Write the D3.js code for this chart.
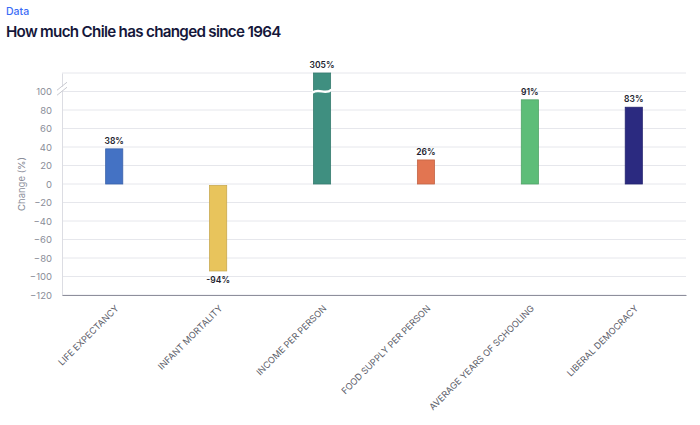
<!DOCTYPE html>
<html>
<head>
<meta charset="utf-8">
<script src="https://cdn.jsdelivr.net/npm/d3@7"></script>
<style>
  body { margin: 0; background: #fff; font-family: Inter, "Noto Sans", sans-serif; }
</style>
</head>
<body>
<script>
const categories = ["LIFE EXPECTANCY", "INFANT MORTALITY", "INCOME PER PERSON",
  "FOOD SUPPLY PER PERSON", "AVERAGE YEARS OF SCHOOLING", "LIBERAL DEMOCRACY"];
const values = [38, -94, 305, 26, 91, 83];
const colors = ["#4472c4", "#e8c45c", "#3f8f80", "#e27551", "#5dbd78", "#2b2a80"];
const yTicks = [100, 80, 60, 40, 20, 0, -20, -40, -60, -80, -100, -120];

const width = 700, height = 425;
const margin = { top: 73, right: 14, bottom: 130, left: 62 };

const svg = d3.select("body").append("svg")
  .attr("width", width).attr("height", height);

svg.append("text").attr("x", 6).attr("y", 15)
  .attr("font-size", 10.5).attr("font-weight", 500).attr("fill", "#3b6cf6")
  .text("Data");
svg.append("text").attr("x", 6).attr("y", 37)
  .attr("font-size", 15.2).attr("font-weight", 600).attr("fill", "#15173a")
  .attr("letter-spacing", -0.7)
  .text("How much Chile has changed since 1964");

const x = d3.scaleBand().domain(categories)
  .range([margin.left, width - margin.right]).paddingInner(0.835).paddingOuter(0.42);
const y = d3.scaleLinear().domain([-120, 120])
  .range([height - margin.bottom, margin.top]);

// gridlines
svg.append("g").selectAll("line").data(yTicks.concat([120])).join("line")
  .attr("x1", margin.left).attr("x2", width - margin.right)
  .attr("y1", d => y(d)).attr("y2", d => y(d))
  .attr("stroke", "#e6e7ec").attr("stroke-width", 1);

// y axis
const yAxis = svg.append("g")
  .attr("transform", `translate(${margin.left},0)`)
  .call(d3.axisLeft(y).tickValues(yTicks).tickSize(0).tickPadding(10));
yAxis.select(".domain").attr("stroke", "#dcdde3");
yAxis.selectAll("text").attr("font-size", 9.5).attr("fill", "#8a8d99")
  .attr("font-family", "Inter, sans-serif");

// axis break marks
const by = y(103);
svg.append("rect").attr("x", margin.left - 1.5).attr("y", by - 2)
  .attr("width", 3).attr("height", 4).attr("fill", "#fff");
[-2.5, 2.5].forEach(o => {
  svg.append("line")
    .attr("x1", margin.left - 5).attr("x2", margin.left + 5)
    .attr("y1", by + o + 4).attr("y2", by + o - 4)
    .attr("stroke", "#c8c9d0");
});

svg.append("text")
  .attr("transform", `translate(25,${y(0)}) rotate(-90)`)
  .attr("text-anchor", "middle").attr("font-size", 9.5).attr("fill", "#8a8d99")
  .text("Change (%)");

// bars
const clip = v => Math.max(-120, Math.min(120, v));
svg.append("g").selectAll("rect").data(values).join("rect")
  .attr("x", (d, i) => x(categories[i]))
  .attr("width", x.bandwidth())
  .attr("y", d => d >= 0 ? y(clip(d)) : y(0) + 1.5)
  .attr("height", d => Math.abs(y(clip(d)) - y(0)) - (d >= 0 ? 0 : 1.5))
  .attr("fill", (d, i) => colors[i])
  .attr("stroke", (d, i) => d3.color(colors[i]).darker(0.4))
  .attr("stroke-width", 0.8);

// break in the tall bar
values.forEach((v, i) => {
  if (v > 120) {
    const x0 = x(categories[i]) - 1, w = x.bandwidth() + 2, yb = y(101);
    svg.append("path")
      .attr("d", `M${x0},${yb + 2} C${x0 + w * 0.35},${yb - 3} ${x0 + w * 0.65},${yb + 5} ${x0 + w},${yb - 1}`)
      .attr("fill", "none").attr("stroke", "#fff").attr("stroke-width", 2.5);
  }
});

// value labels
svg.append("g").selectAll("text").data(values).join("text")
  .attr("x", (d, i) => x(categories[i]) + x.bandwidth() / 2)
  .attr("y", d => d >= 0 ? y(clip(d)) - 5 : y(clip(d)) + 12)
  .attr("text-anchor", "middle").attr("font-size", 8.5).attr("font-weight", 600)
  .attr("fill", "#1c1d2e")
  .text(d => d + "%");

// x axis
const xAxis = svg.append("g")
  .attr("transform", `translate(0,${y(-120)})`)
  .call(d3.axisBottom(x).tickSize(0).tickPadding(0));
xAxis.select(".domain").attr("stroke", "#8e8f9c").attr("stroke-width", 1.2);
xAxis.selectAll("text")
  .attr("font-size", 9).attr("fill", "#5b5d69")
  .attr("font-family", "Inter, sans-serif")
  .attr("text-anchor", "end")
  .attr("dy", 0)
  .attr("transform", "translate(5,14) rotate(-45)");
</script>
</body>
</html>
